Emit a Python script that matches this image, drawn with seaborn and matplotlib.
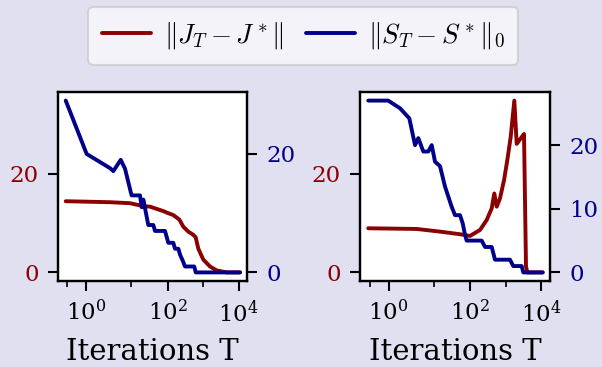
import numpy as np
import matplotlib
matplotlib.use("Agg")
import matplotlib.pyplot as plt
import seaborn as sns

# --- data ---
# left panel
left_red_T = [0.634, 2.87, 9.17, 21.1, 32.3, 75.7, 94.3, 144.5, 213, 276, 381, 527,
              615, 729, 1007, 1556, 2404, 4594, 10890]
left_red = [14.4, 14.2, 14.0, 13.4, 13.3, 12.4, 12.1, 11.6, 10.7, 9.25, 8.25, 7.6,
            7.1, 4.8, 2.6, 1.2, 0.4, 0.0, 0.0]
left_blue_T = [0.634, 1.02, 2.87, 3.44, 5.25, 6.78, 10.1, 17.1, 19.0, 21.1, 28.9, 39.8,
               44.4, 84.5, 104.5, 144.5, 161, 200, 223, 265, 308, 562, 615, 10890]
left_blue = [29, 20, 17.6, 17.1, 19, 17.5, 13, 13, 11, 12.3, 8, 8,
             7, 7, 5, 5, 4, 4, 3, 2, 1, 1, 0, 0]

# right panel
right_red_T = [0.634, 3.61, 14.6, 52.1, 99.3, 189.4, 292, 404, 478, 559, 692, 898,
               1110, 1384, 1750, 2043, 3281, 3733, 4064, 11040]
right_red = [8.93, 8.79, 8.25, 7.72, 7.38, 8.59, 10.6, 12.95, 15.97, 13.3, 14.97, 18.65,
             22.7, 27.4, 34.75, 26.0, 28.0, 1.2, 0.0, 0.0]
right_blue_T = [0.634, 0.99, 1.55, 2.43, 3.29, 3.95, 5.27, 7.1, 8.74, 10.7, 14.6, 20.0,
                30.6, 37.8, 52.1, 62, 72, 80, 211, 262, 404, 500, 1324, 1638, 2825,
                3133, 11040]
right_blue = [27, 27, 25.8, 24.2, 20, 21.1, 19, 19, 20, 17.4, 16.7, 13.5,
              10.3, 9, 9, 7.7, 5.9, 5, 5, 4, 4, 2, 2, 1, 1, 0, 0]

red_ticks = [0, 20]
left_blue_ticks = [0, 20]
right_blue_ticks = [0, 10, 20]
x_major = [1, 100, 10000]
x_major_labels = [r"$\mathdefault{10^{0}}$", r"$\mathdefault{10^{2}}$", r"$\mathdefault{10^{4}}$"]
x_minor = [0.646, 10, 1000]

RED = "#8b0000"
BLUE = "#00008b"
BG = "#e0e0f1"

sns.set_style("ticks")
plt.rcParams["font.family"] = ["DejaVu Serif"]
plt.rcParams["mathtext.fontset"] = "cm"
plt.rcParams["text.color"] = "black"
plt.rcParams["axes.labelcolor"] = "black"
plt.rcParams["xtick.color"] = "black"
plt.rcParams["ytick.color"] = "black"


def fwd(t):
    return np.log10(np.maximum(np.asarray(t, dtype=float) - 0.5, 1e-9))


def inv(u):
    return 10 ** np.asarray(u, dtype=float) + 0.5


fig = plt.figure(figsize=(6.02, 3.67), dpi=100, facecolor=BG)
ax_l = fig.add_axes([0.0963, 0.2343, 0.3148, 0.515])
ax_r = fig.add_axes([0.5988, 0.2343, 0.3148, 0.515], sharey=ax_l)

panels = [
    (ax_l, left_red_T, left_red, left_blue_T, left_blue, left_blue_ticks),
    (ax_r, right_red_T, right_red, right_blue_T, right_blue, right_blue_ticks),
]

twins = []
for ax, rT, rv, bT, bv, bticks in panels:
    ax.set_facecolor("white")
    ax.set_xscale("function", functions=(fwd, inv))
    sns.lineplot(x=rT, y=rv, ax=ax, color=RED, lw=2.8, sort=False,
                 estimator=None, label=r"$\|J_T - J^*\|$", legend=False)
    tw = ax.twinx()
    twins.append(tw)
    sns.lineplot(x=bT, y=bv, ax=tw, color=BLUE, lw=2.8, sort=False,
                 estimator=None, label=r"$\|S_T - S^*\|_0$", legend=False)
    ax.set_xlim(0.581, 17700)
    ax.set_xticks(x_major)
    ax.set_xticklabels(x_major_labels)
    ax.set_xticks(x_minor, minor=True)
    ax.set_yticks(red_ticks)
    tw.set_yticks(bticks)
    ax.set_xlabel("Iterations T", fontsize=21, labelpad=8)
    ax.set_ylabel("")
    tw.set_ylabel("")
    for a in (ax, tw):
        for s in a.spines.values():
            s.set_visible(True)
            s.set_linewidth(1.6)
            s.set_color("black")
        a.tick_params(which="major", length=7, width=1.5, labelsize=16.5, pad=7)
        a.tick_params(which="minor", length=4, width=1.2)
    ax.tick_params(axis="y", labelcolor=RED, left=True)
    tw.tick_params(axis="y", labelcolor=BLUE, right=True)
    ax.tick_params(axis="x", which="both", bottom=True, top=False, labelcolor="black")

h1 = ax_l.get_lines()[0]
h2 = twins[0].get_lines()[0]
leg = fig.legend([h1, h2], [h1.get_label(), h2.get_label()], loc="upper center",
                 bbox_to_anchor=(0.504, 0.982), ncol=2, fontsize=19.5, frameon=True,
                 fancybox=True, handlelength=1.8, columnspacing=0.8,
                 handletextpad=0.5, borderaxespad=0, borderpad=0.5)
leg.get_frame().set_facecolor("#f8f8fc")
leg.get_frame().set_edgecolor("#cccccc")
leg.get_frame().set_linewidth(1.5)
for t in leg.get_texts():
    t.set_color("black")

fig.savefig("out.png", dpi=100, facecolor=BG)
